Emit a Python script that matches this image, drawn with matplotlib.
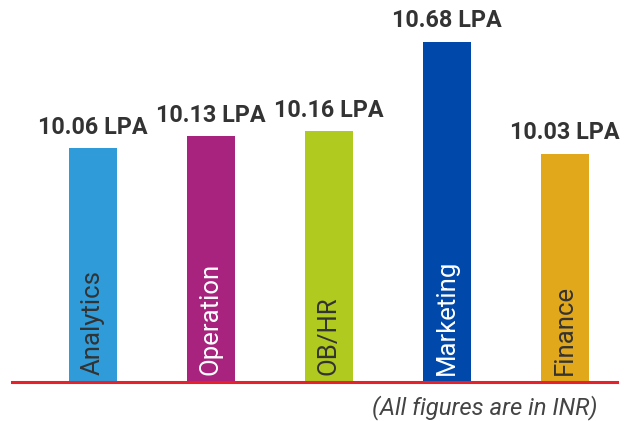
import matplotlib
matplotlib.use("Agg")
import matplotlib.pyplot as plt
from matplotlib.lines import Line2D

categories = ["Analytics", "Operation", "OB/HR", "Marketing", "Finance"]
salaries = [10.06, 10.13, 10.16, 10.68, 10.03]
value_labels = ["10.06 LPA", "10.13 LPA", "10.16 LPA", "10.68 LPA", "10.03 LPA"]
bar_colors = ["#2F9BD8", "#A8237E", "#B1CA1F", "#0048AA", "#E0A81A"]
name_colors = ["#333333", "#FFFFFF", "#333333", "#FFFFFF", "#333333"]

W, H = 633, 421
fig = plt.figure(figsize=(W / 100, H / 100), dpi=100)
fig.patch.set_facecolor("white")

base_px = 382   # baseline, pixels from top
top_px = 42     # top of tallest bar, pixels from top
left_px = 34
width_px = 590
y_floor = 8.7
ax = fig.add_axes([left_px / W, (H - base_px) / H, width_px / W, (base_px - top_px) / H])
ax.set_xlim(-0.5, len(categories) - 0.5)
ax.set_ylim(y_floor, max(salaries))
ax.axis("off")

x = list(range(len(categories)))
ax.bar(x, salaries, width=0.4, color=bar_colors)

for xi, v, lab, name, nc in zip(x, salaries, value_labels, categories, name_colors):
    ax.annotate(lab, (xi, v), xytext=(0, 7), textcoords="offset points",
                ha="center", va="bottom", fontsize=16.8, fontweight="bold",
                family="Roboto", color="#333333", annotation_clip=False)
    ax.annotate(name, (xi, y_floor), xytext=(0, 5), textcoords="offset points",
                ha="center", va="bottom", rotation=90, fontsize=18.5,
                family="Roboto", color=nc, annotation_clip=False)

# red baseline across the chart
yb = (H - base_px) / H
fig.add_artist(Line2D([12 / W, 617 / W], [yb, yb], color="#E8202A", lw=2.2))

fig.text(598 / W, (H - 408) / H, "(All figures are in INR)", ha="right", va="center",
         fontsize=17.2, style="italic", family="Roboto", color="#444444")

fig.savefig("out.png", dpi=100)
